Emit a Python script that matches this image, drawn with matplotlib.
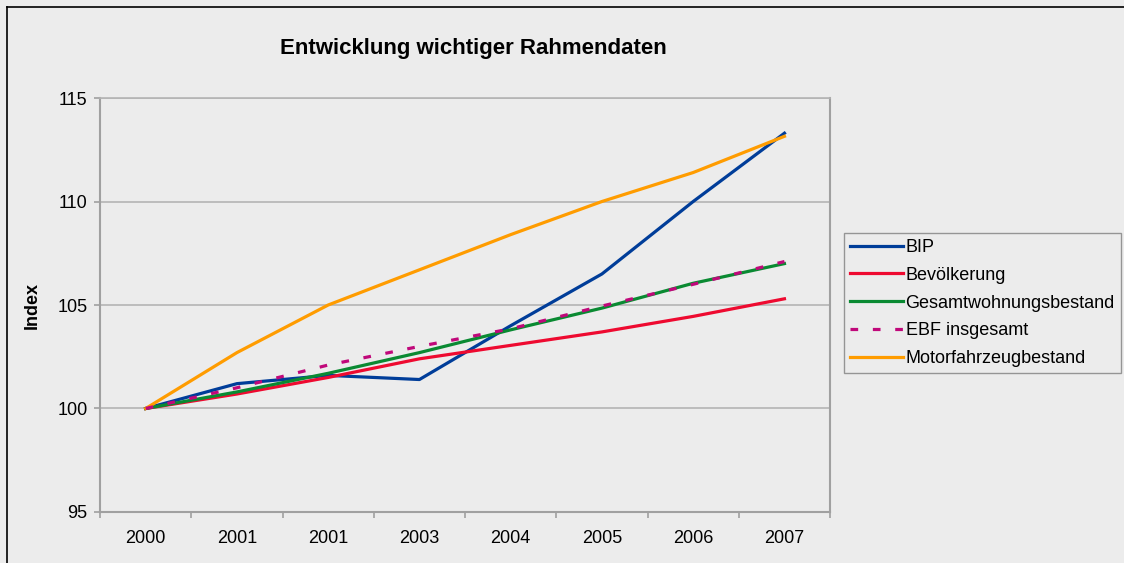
import matplotlib
matplotlib.use("Agg")
import matplotlib.pyplot as plt
from matplotlib.lines import Line2D

plt.rcParams['font.family'] = ['Liberation Sans', 'DejaVu Sans']

# Data
# -----------------------------------------------------------------------------
years = ['2000', '2001', '2001', '2003', '2004', '2005', '2006', '2007']
bip = [100.0, 101.2, 101.6, 101.4, 104.0, 106.5, 110.0, 113.3]
bevoelkerung = [100.0, 100.7, 101.5, 102.4, 103.05, 103.7, 104.45, 105.3]
wohnungen = [100.0, 100.8, 101.7, 102.7, 103.8, 104.85, 106.05, 107.0]
ebf = [100.0, 101.0, 102.1, 103.0, 103.85, 104.95, 106.0, 107.1]
motorfahrzeuge = [100.0, 102.7, 105.0, 106.7, 108.4, 110.0, 111.4, 113.15]
y_ticks = [95, 100, 105, 110, 115]

bg = '#ECECEC'
fs = 13
fig = plt.figure(figsize=(11.24, 5.63), dpi=100, facecolor=bg)
ax = fig.add_axes([0.089, 0.0906, 0.6495, 0.7353], facecolor=bg)

x = range(len(years))
lw = 2.3
ax.plot(x, bip, color='#003D99', lw=lw, label='BIP', zorder=3)
ax.plot(x, bevoelkerung, color='#EE0A30', lw=lw, label='Bevölkerung', zorder=3)
ax.plot(x, wohnungen, color='#0A8A32', lw=lw, label='Gesamtwohnungsbestand', zorder=3)
ax.plot(x, ebf, color='#C0087A', lw=lw, ls=(0, (2.4, 4.6)), label='EBF insgesamt', zorder=4)
ax.plot(x, motorfahrzeuge, color='#FF9C00', lw=lw, label='Motorfahrzeugbestand', zorder=3)

ax.set_xlim(-0.5, len(years) - 0.5)
ax.set_ylim(95, 115)
ax.set_yticks(y_ticks)
ax.yaxis.grid(True, color='#B4B4B4', lw=1.2)
ax.set_axisbelow(True)

ax.set_xticks(list(x))
ax.set_xticklabels(years)
ax.set_xticks([i - 0.5 for i in range(len(years) + 1)], minor=True)
ax.tick_params(axis='x', which='major', length=0, pad=13, labelsize=fs)
ax.tick_params(axis='x', which='minor', length=4, color='#A0A0A0', width=1.2)
ax.tick_params(axis='y', length=4, color='#A0A0A0', width=1.2, labelsize=fs, pad=5)

for side in ['left', 'bottom', 'right']:
    ax.spines[side].set_color('#A0A0A0')
    ax.spines[side].set_linewidth(1.5)
ax.spines['top'].set_color('#B4B4B4')
ax.spines['top'].set_linewidth(1.2)

ax.set_ylabel('Index', fontsize=fs, fontweight='bold', labelpad=12)
fig.text(0.421, 0.913, 'Entwicklung wichtiger Rahmendaten', ha='center', va='center',
         fontsize=16, fontweight='bold')

leg = ax.legend(loc='upper left', bbox_to_anchor=(0.751, 0.587), bbox_transform=fig.transFigure,
                frameon=True, fancybox=False, fontsize=fs, handlelength=2.9,
                handletextpad=0.15, labelspacing=0.6, borderpad=0.35, borderaxespad=0)
leg.get_frame().set_facecolor(bg)
leg.get_frame().set_edgecolor('#808080')
leg.get_frame().set_linewidth(1.0)

# frame of the chart area, only left and top edges are inside the picture
x0, y0 = 0.0065, 0.9876
fig.lines.append(Line2D([x0, x0], [0, y0], transform=fig.transFigure, color='black', lw=1.2))
fig.lines.append(Line2D([x0, 1], [y0, y0], transform=fig.transFigure, color='black', lw=1.2))

fig.savefig('out.png', dpi=100, facecolor=bg)
